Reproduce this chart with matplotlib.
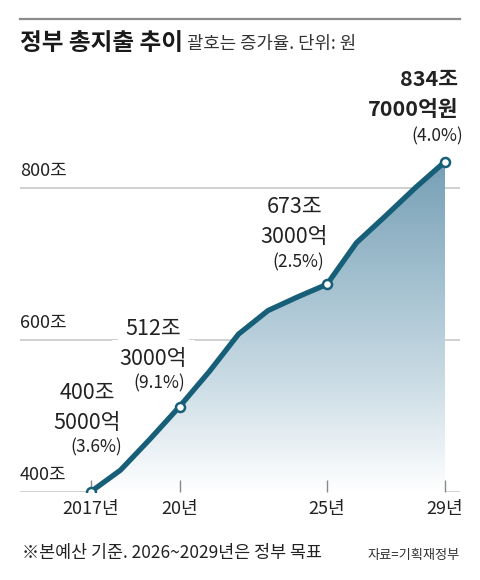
import numpy as np
import matplotlib
matplotlib.use("Agg")
import matplotlib.pyplot as plt
from matplotlib.colors import LinearSegmentedColormap
from matplotlib.patches import Polygon
import matplotlib.transforms as mtransforms

plt.rcParams['font.family'] = ['Noto Sans CJK KR', 'DejaVu Sans']

# ---------------- data ----------------
years = [2017, 2018, 2019, 2020, 2021, 2022, 2023, 2024, 2025, 2026, 2027, 2028, 2029]
spending = [400.5, 428.8, 469.6, 512.3, 558.0, 607.7, 638.7, 656.6, 673.3, 728.0, 763.8, 800.5, 834.7]

label_years = [2017, 2020, 2025, 2029]
label_jo = ['400조', '512조', '673조', '834조']
label_eok = ['5000억', '3000억', '3000억', '7000억원']
label_rate = ['(3.6%)', '(9.1%)', '(2.5%)', '(4.0%)']

tick_years = [2017, 2020, 2025, 2029]
tick_labels = ['2017년', '20년', '25년', '29년']
grid_values = [400, 600, 800]
grid_labels = ['400조', '600조', '800조']

title = '정부 총지출 추이'
subtitle = '괄호는 증가율. 단위: 원'
note = '※본예산 기준. 2026~2029년은 정부 목표'
source = '자료=기획재정부'

# ---------------- layout ----------------
W, H = 480, 580
fig = plt.figure(figsize=(W / 100, H / 100), dpi=100)
fig.patch.set_facecolor('white')

def fx(x):
    return x / W

def fy(y):
    return 1 - y / H

ax_left, ax_right, ax_bottom, ax_top = 20, 460, 492, 60
ax = fig.add_axes([fx(ax_left), fy(ax_bottom), fx(ax_right - ax_left), (ax_bottom - ax_top) / H])
px_per_year = (445 - 91) / 12.0
px_per_unit = 152 / 200.0
ax.set_xlim(2017 - (91 - ax_left) / px_per_year, 2029 + (ax_right - 445) / px_per_year)
ax.set_ylim(400, 400 + (ax_bottom - ax_top) / px_per_unit)
for s in ax.spines.values():
    s.set_visible(False)
ax.set_facecolor('none')

line_color = '#175f78'
text_color = '#222222'

# gradient fill under the line
cmap = LinearSegmentedColormap.from_list('g', ['#ffffff', '#c9dbe4', '#9dbccc', '#739db3'])
grad = np.linspace(0, 1, 256).reshape(-1, 1)
im = ax.imshow(grad, extent=[years[0], years[-1], 400, 845], origin='lower',
               aspect='auto', cmap=cmap, zorder=1, interpolation='bilinear')
verts = [(years[0], 400)] + list(zip(years, spending)) + [(years[-1], 400)]
clip = Polygon(verts, closed=True, transform=ax.transData, facecolor='none', edgecolor='none')
ax.add_patch(clip)
im.set_clip_path(clip)

# grid lines
for v in grid_values:
    ax.axhline(v, color='#c4c4c4', lw=1.1, zorder=0.5)

# y labels
trans = mtransforms.blended_transform_factory(ax.transAxes, ax.transData)
for v, lab in zip(grid_values, grid_labels):
    ax.annotate(lab, xy=(0, v), xycoords=trans, xytext=(0, 17), textcoords='offset pixels',
                ha='left', va='center', fontsize=13, color=text_color)

# line + markers
ax.plot(years, spending, color=line_color, lw=3.8, solid_capstyle='round',
        solid_joinstyle='round', zorder=3)
mk_vals = [spending[years.index(y)] for y in label_years]
ax.plot(label_years, mk_vals, 'o', ms=6.5, mfc='white', mec=line_color, mew=1.8, zorder=4)

# x ticks
ax.set_yticks([])
ax.set_xticks(tick_years)
ax.set_xticklabels(tick_labels, fontsize=13, color=text_color)
ax.tick_params(axis='x', direction='in', length=9, width=1, color='#888888', pad=6)

# value labels (offsets in pixels relative to the marker)
offs_jo = [(-4, 99), (-26, 78), (-32, 77), (13, 82)]
offs_eok = [(-4, 69), (-26, 48), (-33, 47), (13, 52)]
offs_rate = [(5, 44), (-20, 23), (-29, 22), (18, 25)]
for i, (yr, v) in enumerate(zip(label_years, mk_vals)):
    last = i == len(label_years) - 1
    ha = 'right' if last else 'center'
    weight = 'bold' if last else 'normal'
    bb = None if last else dict(boxstyle='square,pad=0.35', fc='white', ec='none')
    ax.annotate(label_jo[i], xy=(yr, v), xytext=offs_jo[i], textcoords='offset pixels',
                ha=ha, va='center', fontsize=15.5, fontweight=weight, color=text_color,
                zorder=5, bbox=bb, annotation_clip=False)
    ax.annotate(label_eok[i], xy=(yr, v), xytext=offs_eok[i], textcoords='offset pixels',
                ha=ha, va='center', fontsize=15.5, fontweight=weight, color=text_color,
                zorder=5, bbox=bb, annotation_clip=False)
    ax.annotate(label_rate[i], xy=(yr, v), xytext=offs_rate[i], textcoords='offset pixels',
                ha=ha, va='center', fontsize=12.5, color=text_color, zorder=5,
                annotation_clip=False)

# header
fig.add_artist(plt.Line2D([fx(20), fx(460)], [fy(19), fy(19)], color='#8c8c8c', lw=1.6))
fig.text(fx(20), fy(43), title, fontsize=17, fontweight='bold', color='#1a1a1a',
         ha='left', va='center')
fig.text(fx(187), fy(44), subtitle, fontsize=12.8, color='#333333', ha='left', va='center')

# footer
fig.text(fx(22), fy(553), note, fontsize=12.5, color='#222222', ha='left', va='center')
fig.text(fx(460), fy(555), source, fontsize=9.5, color='#333333', ha='right', va='center')

fig.savefig('out.png', dpi=100, facecolor='white')
